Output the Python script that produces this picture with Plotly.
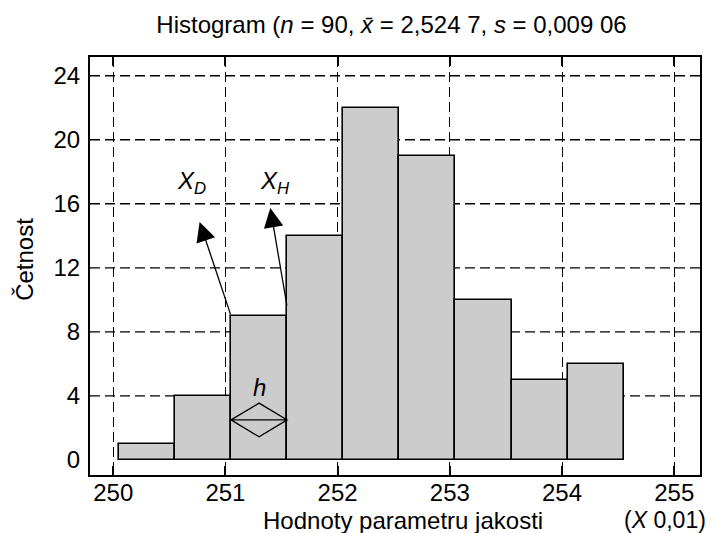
import plotly.graph_objects as go

# ---- data ----
bin_edges = [250.05, 250.55, 251.05, 251.55, 252.05, 252.55, 253.05, 253.55, 254.05, 254.55]
counts = [1, 4, 9, 14, 22, 19, 10, 5, 6]
x_ticks = [250, 251, 252, 253, 254, 255]
y_ticks = [0, 4, 8, 12, 16, 20, 24]
y_grid = [4, 8, 12, 16, 20, 24]

FONT = "Liberation Sans, Arial, Helvetica, sans-serif"

centers = [(a + b) / 2 for a, b in zip(bin_edges[:-1], bin_edges[1:])]
widths = [b - a for a, b in zip(bin_edges[:-1], bin_edges[1:])]

fig = go.Figure()

fig.add_trace(go.Bar(
    x=centers, y=counts, width=widths,
    marker=dict(color="#cccccc", line=dict(color="black", width=1.6)),
    showlegend=False, hoverinfo="x+y",
))

# class width "h" symbol over the third bin
hl, hr = bin_edges[2], bin_edges[3]
hc = (hl + hr) / 2
yc, dy = 2.5, 1.05
fig.add_trace(go.Scatter(
    x=[hl, hc, hr, hc, hl, hr],
    y=[yc, yc + dy, yc, yc - dy, yc, yc],
    mode="lines", line=dict(color="black", width=1.3),
    showlegend=False, hoverinfo="skip",
))

# horizontal dashed grid (not at 0)
for gy in y_grid:
    fig.add_shape(type="line", xref="paper", yref="y", x0=0, x1=1, y0=gy, y1=gy,
                  line=dict(color="black", width=1.4, dash="10px,5px"), layer="below")

# annotations
fig.add_annotation(x=hc, y=4.55, text="<i>h</i>", showarrow=False,
                   font=dict(family=FONT, size=24, color="black"))
fig.add_annotation(x=250.70, y=17.3, text="<i>X<sub>D</sub></i>", showarrow=False,
                   font=dict(family=FONT, size=24, color="black"))
fig.add_annotation(x=251.44, y=17.3, text="<i>X<sub>H</sub></i>", showarrow=False,
                   font=dict(family=FONT, size=24, color="black"))

# arrows from bar corners
fig.add_annotation(x=250.77, y=14.87, ax=bin_edges[2], ay=counts[2],
                   xref="x", yref="y", axref="x", ayref="y", text="",
                   showarrow=True, arrowhead=2, arrowsize=3.0, arrowwidth=1.3,
                   arrowcolor="black")
fig.add_annotation(x=251.40, y=15.74, ax=bin_edges[3], ay=9.57,
                   xref="x", yref="y", axref="x", ayref="y", text="",
                   showarrow=True, arrowhead=2, arrowsize=3.0, arrowwidth=1.3,
                   arrowcolor="black")

# axis titles as annotations
fig.add_annotation(xref="paper", yref="paper", x=0.513, y=-0.11,
                   xanchor="center", yanchor="middle",
                   text="Hodnoty parametru jakosti", showarrow=False,
                   font=dict(family=FONT, size=24, color="black"))
fig.add_annotation(xref="paper", yref="paper", x=0.9426, y=-0.1065,
                   xanchor="center", yanchor="middle",
                   text="(<i>X</i> 0,01)", showarrow=False,
                   font=dict(family=FONT, size=23, color="black"))
fig.add_annotation(xref="paper", yref="paper", x=-0.1066, y=0.517,
                   xanchor="center", yanchor="middle",
                   text="Četnost", textangle=-90, showarrow=False,
                   font=dict(family=FONT, size=24, color="black"))

# the page body has an 8px margin, so the figure is offset by 8px
fig.update_layout(
    width=705, height=525,
    margin=dict(l=82, r=13, t=49, b=58),
    paper_bgcolor="white", plot_bgcolor="white",
    title=dict(text="Histogram (<i>n</i> = 90, <i>x̄</i> = 2,524 7, <i>s</i> = 0,009 06",
               x=383.5 / 705, xref="container", xanchor="center",
               y=1 - 17 / 525, yref="container", yanchor="middle",
               font=dict(family=FONT, size=24, color="black")),
    bargap=0,
    font=dict(family=FONT, size=24, color="black"),
)

fig.update_xaxes(
    range=[249.793, 255.23], tickvals=x_ticks, ticktext=[str(v) for v in x_ticks],
    showgrid=True, gridcolor="black", gridwidth=1.4, griddash="10px,5px",
    zeroline=False, showline=True, linecolor="black", linewidth=2, mirror="ticks",
    ticks="inside", ticklen=9, tickwidth=1.5, tickcolor="black",
    tickfont=dict(family=FONT, size=24, color="black"), ticklabelstandoff=-5,
)
fig.update_yaxes(
    range=[-0.94, 25.17], tickvals=y_ticks, ticktext=[str(v) for v in y_ticks],
    showgrid=False, zeroline=False, showline=True, linecolor="black", linewidth=2,
    mirror=True, ticks="",
    tickfont=dict(family=FONT, size=24, color="black"), ticklabelstandoff=3,
)

fig.write_html("out.html")
